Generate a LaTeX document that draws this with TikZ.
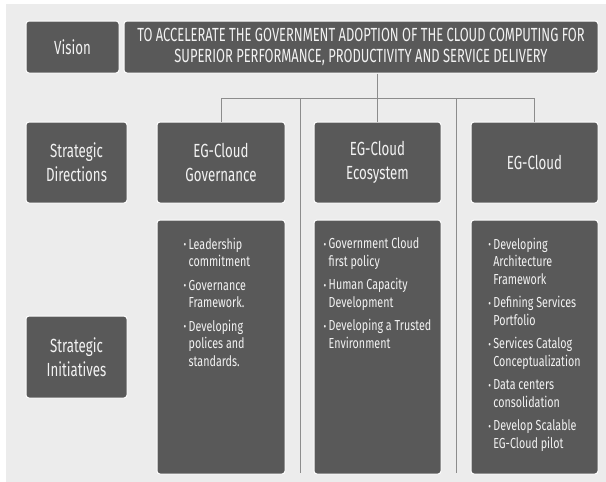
\documentclass[tikz,border=0pt]{standalone}
\usepackage{fontspec}
\setmainfont{Fira Sans}[FakeStretch=0.7]
\newfontfamily\capfont{Fira Sans}[FakeStretch=0.68]
\newfontfamily\listfont{Fira Sans}[FakeStretch=0.74]
\definecolor{boxgray}{HTML}{595959}
\definecolor{bggray}{HTML}{ECECEC}
\definecolor{linegray}{HTML}{8C8C8C}
\definecolor{txtc}{HTML}{F2F2F2}
\tikzset{
  box/.style={fill=boxgray, draw=white, line width=1pt, rounded corners=3pt,
    inner sep=0pt, text=txtc, align=center, font=\fontsize{19}{24}\selectfont},
  conn/.style={draw=linegray, line width=0.9pt},
  listtext/.style={text=txtc, align=left, inner sep=0pt, font=\listfont\fontsize{14.5}{17.5}\selectfont},
}
\newcommand{\bul}{\makebox[5pt][l]{\raisebox{0.5pt}{\fontsize{11}{11}\selectfont •}}}
\newcommand{\ind}{\hspace*{5pt}}
\begin{document}
\begin{tikzpicture}[x=1pt,y=-1pt]
\useasboundingbox (0,0) rectangle (606,482);
\fill[bggray] (6,4) rectangle (606,482);
% separators
\coordinate (sepa) at (300,99);
\coordinate (sepae) at (300,473);
\coordinate (sepb) at (456,99);
\coordinate (sepbe) at (456,473);
\draw[conn] (sepa) -- (sepae);
\draw[conn] (sepb) -- (sepbe);
% row 1
\node[box, minimum width=93pt, minimum height=52pt] (vision) at (72.5,47) {Vision};
\node[box, minimum width=474pt, minimum height=52pt, font=\capfont\fontsize{19}{21}\selectfont] (vstate) at (361,47)
  {TO ACCELERATE THE GOVERNMENT ADOPTION OF THE CLOUD COMPUTING FOR\\SUPERIOR PERFORMANCE, PRODUCTIVITY AND SERVICE DELIVERY};
% row 2
\node[box, minimum width=101pt, minimum height=81pt] (sdir) at (76.5,162.5) {Strategic\\Directions};
\node[box, minimum width=128pt, minimum height=81pt] (gov) at (221,162.5) {EG-Cloud\\Governance};
\node[box, minimum width=127pt, minimum height=81pt] (eco) at (377.5,162.5) {EG-Cloud\\Ecosystem};
\node[box, minimum width=127pt, minimum height=81pt] (egc) at (534.5,162.5) {EG-Cloud};
% row 3
\node[box, minimum width=101pt, minimum height=82pt] (sini) at (76.5,357) {Strategic\\Initiatives};
\node[box, minimum width=128pt, minimum height=254pt] (govb) at (221,347) {};
\node[box, minimum width=127pt, minimum height=254pt] (ecob) at (377.5,347) {};
\node[box, minimum width=127pt, minimum height=254pt] (egcb) at (534.5,347) {};
% connectors
\draw[conn] (vstate.south -| eco.north) -- (eco.north);
\path (gov.north) ++(0,-23) coordinate (busl);
\draw[conn] (gov.north) -- (busl) -| (egc.north);
% lists
\node[listtext, anchor=north] (govt) at ([xshift=-4pt,yshift=-18pt]govb.north)
  {\bul Leadership\\ \ind commitment\\[6pt] \bul Governance\\ \ind Framework.\\[6pt] \bul Developing\\ \ind polices and\\ \ind standards.};
\node[listtext, anchor=north] (ecot) at ([yshift=-18pt]ecob.north)
  {\bul Government Cloud\\ \ind first policy\\[6pt] \bul Human Capacity\\ \ind Development\\[6pt] \bul Developing a Trusted\\ \ind Environment};
\node[listtext, anchor=north] (egct) at ([yshift=-18pt]egcb.north)
  {\bul Developing\\ \ind Architecture\\ \ind Framework\\[6pt] \bul Defining Services\\ \ind Portfolio\\[6pt] \bul Services Catalog\\ \ind Conceptualization\\[6pt] \bul Data centers\\ \ind consolidation\\[6pt] \bul Develop Scalable\\ \ind EG-Cloud pilot};
\end{tikzpicture}
\end{document}
